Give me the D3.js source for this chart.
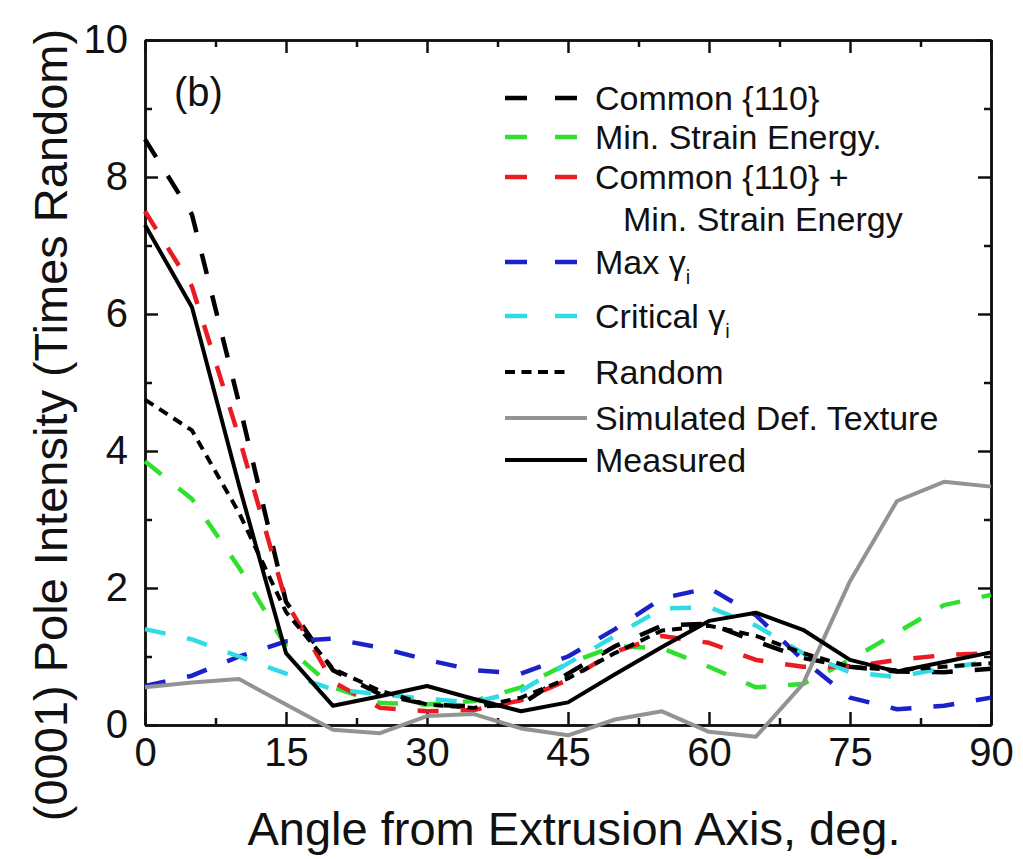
<!DOCTYPE html>
<meta charset="utf-8">
<script src="https://d3js.org/d3.v7.min.js"></script>
<style>
  body { margin: 0; background: #fff; }
  text { font-family: "Liberation Sans", Arial, sans-serif; fill: #111; }
</style>
<div id="chart"></div>
<script>

// angles (deg) where the pole figure was sampled
const angles = [0, 5, 10, 15, 20, 25, 30, 35, 40, 45, 50, 55, 60, 65, 70, 75, 80, 85, 90];

// series values (times random)
const common110   = [8.55, 7.45, 4.7, 1.8, 0.8, 0.45, 0.3, 0.27, 0.3, 0.75, 1.15, 1.45, 1.48, 1.22, 0.98, 0.85, 0.78, 0.77, 0.82];
const minStrain   = [3.85, 3.3, 2.3, 1.15, 0.55, 0.32, 0.3, 0.35, 0.55, 0.9, 1.15, 1.12, 0.85, 0.55, 0.6, 0.95, 1.35, 1.75, 1.9];
const commonPlus  = [7.5, 6.4, 4.2, 1.8, 0.63, 0.25, 0.2, 0.22, 0.36, 0.66, 1.07, 1.3, 1.2, 0.95, 0.85, 0.85, 0.95, 1.02, 1.05];
const maxGamma    = [0.57, 0.72, 1.0, 1.22, 1.26, 1.13, 0.95, 0.8, 0.75, 1.0, 1.4, 1.85, 2.0, 1.6, 0.95, 0.4, 0.23, 0.28, 0.4];
const critGamma   = [1.4, 1.25, 1.0, 0.75, 0.52, 0.45, 0.38, 0.33, 0.5, 0.9, 1.3, 1.7, 1.72, 1.45, 1.05, 0.77, 0.7, 0.83, 0.93];
const randomTex   = [4.75, 4.3, 3.1, 1.65, 0.82, 0.5, 0.3, 0.25, 0.4, 0.68, 1.05, 1.38, 1.45, 1.3, 1.05, 0.85, 0.8, 0.85, 0.9];
const simulated   = [0.55, 0.62, 0.67, 0.3, -0.07, -0.12, 0.13, 0.16, -0.05, -0.15, 0.08, 0.2, -0.1, -0.17, 0.6, 2.1, 3.27, 3.55, 3.48];
const measured    = [7.3, 6.1, 3.5, 1.05, 0.28, 0.42, 0.57, 0.38, 0.2, 0.33, 0.74, 1.14, 1.52, 1.64, 1.39, 0.95, 0.78, 0.92, 1.06];

// legend names (sub = subscript after the name)
const names = ["Common {110}", "Min. Strain Energy.", "Common {110} +", "Max \u03B3", "Critical \u03B3", "Random", "Simulated Def. Texture", "Measured"];
const subs  = ["", "", "", "i", "i", "", "", ""];

const xTicks = [0, 15, 30, 45, 60, 75, 90];
const xMinor = [7.5, 22.5, 37.5, 52.5, 67.5, 82.5];
const yTicks = [0, 2, 4, 6, 8, 10];
const yMinor = [1, 3, 5, 7, 9];

// styles
const series = [
  {v: common110,  color: "#000000", dash: "21,22", legDash: "22,28", w: 4.5},
  {v: minStrain,  color: "#2fe02f", dash: "21,22", legDash: "22,28", w: 4.5},
  {v: commonPlus, color: "#e81c22", dash: "21,22", legDash: "22,28", w: 4.5},
  {v: maxGamma,   color: "#1c22c8", dash: "21,22", legDash: "22,28", w: 4.5},
  {v: critGamma,  color: "#30dbe3", dash: "21,22", legDash: "22,28", w: 4.5},
  {v: randomTex,  color: "#000000", dash: "10,7",  legDash: "10,6.5", w: 4},
  {v: simulated,  color: "#939393", dash: null,    legDash: null, w: 4},
  {v: measured,   color: "#000000", dash: null,    legDash: null, w: 4}
];

const W = 1023, H = 859;
const x = d3.scaleLinear().domain([0, 90]).range([145, 991]);
const y = d3.scaleLinear().domain([0, 10]).range([725, 40]);

const svg = d3.select("#chart").append("svg")
  .attr("width", W).attr("height", H);

// axes: ticks pointing inward on all four sides
function styleAxis(g) {
  g.selectAll("path.domain").attr("stroke", "#111").attr("stroke-width", 2.5);
  g.selectAll(".tick line").attr("stroke", "#111").attr("stroke-width", 2.5);
  g.selectAll("text").attr("font-size", 40).attr("fill", "#111")
    .style("font-family", '"Liberation Sans", Arial, sans-serif');
}

svg.append("g").attr("transform", `translate(0,${y(0)})`)
  .call(d3.axisBottom(x).tickValues(xTicks).tickSize(-13).tickSizeOuter(0).tickPadding(13).tickFormat(d3.format("d")))
  .call(styleAxis);
svg.append("g").attr("transform", `translate(0,${y(0)})`)
  .call(d3.axisBottom(x).tickValues(xMinor).tickSize(-7).tickSizeOuter(0).tickFormat(""))
  .call(styleAxis);
svg.append("g").attr("transform", `translate(0,${y(10)})`)
  .call(d3.axisTop(x).tickValues(xTicks).tickSize(-13).tickSizeOuter(0).tickFormat(""))
  .call(styleAxis);
svg.append("g").attr("transform", `translate(0,${y(10)})`)
  .call(d3.axisTop(x).tickValues(xMinor).tickSize(-7).tickSizeOuter(0).tickFormat(""))
  .call(styleAxis);
svg.append("g").attr("transform", `translate(${x(0)},0)`)
  .call(d3.axisLeft(y).tickValues(yTicks).tickSize(-13).tickSizeOuter(0).tickPadding(17).tickFormat(d3.format("d")))
  .call(styleAxis);
svg.append("g").attr("transform", `translate(${x(0)},0)`)
  .call(d3.axisLeft(y).tickValues(yMinor).tickSize(-7).tickSizeOuter(0).tickFormat(""))
  .call(styleAxis);
svg.append("g").attr("transform", `translate(${x(90)},0)`)
  .call(d3.axisRight(y).tickValues(yTicks).tickSize(-13).tickSizeOuter(0).tickFormat(""))
  .call(styleAxis);
svg.append("g").attr("transform", `translate(${x(90)},0)`)
  .call(d3.axisRight(y).tickValues(yMinor).tickSize(-7).tickSizeOuter(0).tickFormat(""))
  .call(styleAxis);

// lines
const line = d3.line()
  .x((d, i) => x(angles[i]))
  .y(d => y(d));

svg.append("g").selectAll("path")
  .data(series)
  .join("path")
    .attr("d", d => line(d.v))
    .attr("fill", "none")
    .attr("stroke", d => d.color)
    .attr("stroke-width", d => d.w)
    .attr("stroke-dasharray", d => d.dash)
    .attr("stroke-linejoin", "round");

// axis titles
svg.append("text")
  .attr("x", (x(0) + x(90)) / 2 + 6).attr("y", 845)
  .attr("text-anchor", "middle").attr("font-size", 47)
  .text("Angle from Extrusion Axis, deg.");

svg.append("text")
  .attr("transform", "translate(67,425) rotate(-90)")
  .attr("text-anchor", "middle").attr("font-size", 47)
  .text("(0001) Pole Intensity (Times Random)");

// panel label
svg.append("text")
  .attr("x", 174).attr("y", 106).attr("font-size", 40)
  .text("(b)");

// legend
const legY = [110, 149, 189, 274, 328, 384, 430, 472];
const leg = svg.append("g");
series.forEach((s, i) => {
  const ly = legY[i] - 12;
  const x1 = 505;
  const x2 = s.dash === null ? 587 : (s.w < 4.5 ? 567 : 577);
  leg.append("line")
    .attr("x1", x1).attr("x2", x2).attr("y1", ly).attr("y2", ly)
    .attr("stroke", s.color).attr("stroke-width", s.w)
    .attr("stroke-dasharray", s.legDash);
  const t = leg.append("text").attr("x", 595).attr("y", legY[i]).attr("font-size", 34);
  t.append("tspan").text(names[i]);
  if (subs[i]) {
    t.append("tspan").attr("font-size", 20).attr("dy", 10).text(subs[i]);
  }
});
// second line of the combined model name
leg.append("text").attr("x", 623).attr("y", 231).attr("font-size", 34)
  .text("Min. Strain Energy");

</script>
